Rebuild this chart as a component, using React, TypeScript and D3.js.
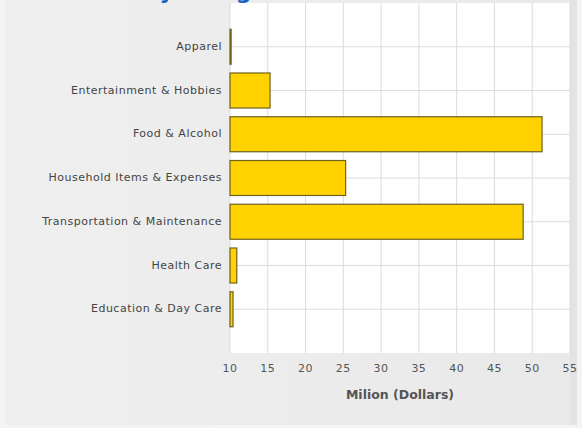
import * as d3 from "d3";

const categories = [
	"Apparel",
	"Entertainment & Hobbies",
	"Food & Alcohol",
	"Household Items & Expenses",
	"Transportation & Maintenance",
	"Health Care",
	"Education & Day Care",
];
const values = [10.15, 15.3, 51.3, 25.3, 48.8, 10.9, 10.4];
const xTicks = [10, 15, 20, 25, 30, 35, 40, 45, 50, 55];
const title = "Monthly Budget";
const xTitle = "Milion (Dollars)";

const WIDTH = 582;
const HEIGHT = 428;
const PLOT = { left: 230, right: 570, top: 3, bottom: 353 };
const FONT = "'DejaVu Sans', Verdana, sans-serif";

export default function App() {
	const x = d3.scaleLinear().domain([10, 55]).range([PLOT.left, PLOT.right]);
	const y = d3
		.scaleBand<string>()
		.domain(categories)
		.range([PLOT.top, PLOT.bottom])
		.paddingInner(0.2)
		.paddingOuter(0.6);

	return (
		<div style={{ position: "fixed", left: 0, top: 0 }}>
			<svg width={WIDTH} height={HEIGHT} style={{ display: "block" }}>
				<defs>
					<linearGradient id="bg" x1="0" x2="1" y1="0" y2="0">
						<stop offset="0" stopColor="#efefef" />
						<stop offset="1" stopColor="#e9e9e9" />
					</linearGradient>
				</defs>
				<rect width={WIDTH} height={HEIGHT} fill="#f4f4f4" />
				<rect x={5} y={0} width={WIDTH - 10} height={425} fill="url(#bg)" />
				<rect x={PLOT.right} y={0} width={7} height={425} fill="#e3e3e3" />

				{/* title, mostly cut off above the frame */}
				<text
					x={66}
					y={-1}
					fontFamily={FONT}
					fontWeight="bold"
					fontSize={22}
					letterSpacing={1.2}
					fill="#1565c0"
				>
					{title}
				</text>

				<rect
					x={PLOT.left}
					y={PLOT.top}
					width={PLOT.right - PLOT.left}
					height={PLOT.bottom - PLOT.top}
					fill="#ffffff"
				/>

				{/* grid */}
				{xTicks.map((t) => (
					<line
						key={"gx" + t}
						x1={x(t)}
						x2={x(t)}
						y1={PLOT.top}
						y2={PLOT.bottom}
						stroke="#dcdcdc"
					/>
				))}
				{categories.map((c) => {
					const cy = (y(c) ?? 0) + y.bandwidth() / 2;
					return (
						<line
							key={"gy" + c}
							x1={PLOT.left}
							x2={PLOT.right}
							y1={cy}
							y2={cy}
							stroke="#dcdcdc"
						/>
					);
				})}

				{/* bars */}
				{categories.map((c, i) => (
					<rect
						key={"b" + c}
						x={x(10)}
						y={y(c)}
						width={Math.max(x(values[i]) - x(10), 0.5)}
						height={y.bandwidth()}
						fill="#ffd200"
						stroke="#6e621e"
						strokeWidth={1.2}
					/>
				))}

				{/* category labels */}
				{categories.map((c) => (
					<text
						key={"l" + c}
						x={PLOT.left - 8}
						y={(y(c) ?? 0) + y.bandwidth() / 2}
						textAnchor="end"
						dominantBaseline="middle"
						fontFamily={FONT}
						fontSize={11}
						letterSpacing={0.5}
						fill="#444"
					>
						{c}
					</text>
				))}

				{/* x tick labels */}
				{xTicks.map((t) => (
					<text
						key={"t" + t}
						x={x(t)}
						y={372}
						textAnchor="middle"
						fontFamily={FONT}
						fontSize={11}
						letterSpacing={0.5}
						fill="#555"
					>
						{t}
					</text>
				))}

				<text
					x={(PLOT.left + PLOT.right) / 2}
					y={399}
					textAnchor="middle"
					fontFamily={FONT}
					fontWeight="bold"
					fontSize={12.5}
					fill="#555"
				>
					{xTitle}
				</text>
			</svg>
		</div>
	);
}
